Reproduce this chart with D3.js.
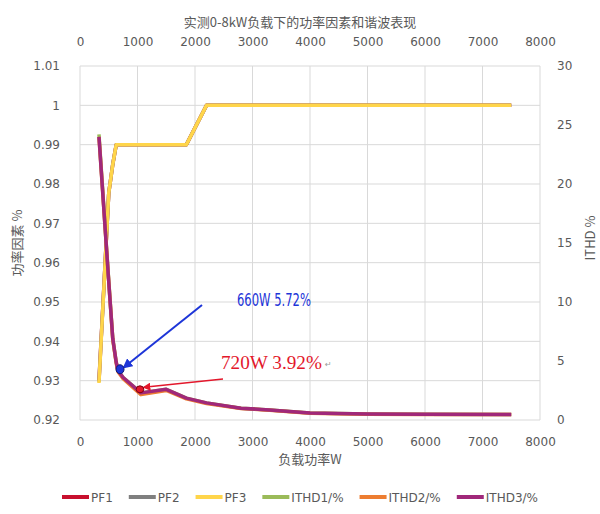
<!DOCTYPE html>
<html>
<head>
<meta charset="utf-8">
<title>功率因素和谐波</title>
<script src="https://cdn.jsdelivr.net/npm/d3@7"></script>
<style>
  body { margin: 0; background: #fff; }
  text { font-family: "DejaVu Sans", "Noto Sans CJK SC", sans-serif; fill: #595959; }
  .cjk { font-family: "Noto Sans CJK SC", sans-serif; }
  .grid line { stroke: #d9d9d9; stroke-width: 1; }
  .series { fill: none; stroke-width: 3.5; stroke-linejoin: round; }
</style>
</head>
<body>
<script>
// load points (W)
var loadW = [330, 500, 570, 630, 660, 750, 1060, 1500, 1850, 2200, 2800, 3300, 4000, 5000, 6000, 7500];

// power factor, left axis
var pf1 = [0.9300, 0.9777, 0.985, 0.99, 0.99, 0.99, 0.99, 0.99, 0.99, 1.0, 1.0, 1.0, 1.0, 1.0, 1.0, 1.0];
var pf2 = [0.9297, 0.9777, 0.985, 0.99, 0.99, 0.99, 0.99, 0.99, 0.99, 1.0, 1.0, 1.0, 1.0, 1.0, 1.0, 1.0];
var pf3 = [0.9294, 0.9777, 0.985, 0.99, 0.99, 0.99, 0.99, 0.99, 0.99, 1.0, 1.0, 1.0, 1.0, 1.0, 1.0, 1.0];

// current THD in %, right axis
var ithd1 = [24.2, 11.8, 6.9, 4.9, 4.2, 3.6, 2.3, 2.6, 1.85, 1.45, 1.0, 0.85, 0.6, 0.5, 0.48, 0.47];
var ithd2 = [24.0, 11.7, 6.8, 4.8, 4.1, 3.5, 2.15, 2.5, 1.8, 1.4, 0.98, 0.83, 0.58, 0.49, 0.47, 0.46];
var ithd3 = [24.0, 11.7, 6.9, 4.9, 4.2, 3.6, 2.3, 2.6, 1.85, 1.45, 1.0, 0.85, 0.6, 0.5, 0.48, 0.47];

var seriesNames = ["PF1", "PF2", "PF3", "ITHD1/%", "ITHD2/%", "ITHD3/%"];
var seriesColors = ["#c8102e", "#7f7f7f", "#ffd54a", "#9bbb59", "#ed7d31", "#a0287a"];

var xTicks = [0, 1000, 2000, 3000, 4000, 5000, 6000, 7000, 8000];
var pfTicks = [0.92, 0.93, 0.94, 0.95, 0.96, 0.97, 0.98, 0.99, 1.0, 1.01];
var ithdTicks = [0, 5, 10, 15, 20, 25, 30];

var title = "实测0-8kW负载下的功率因素和谐波表现";
var xTitle = "负载功率W";
var yLeftTitle = "功率因素 %";
var yRightTitle = "ITHD %";

// hand drawn callouts: [load, ithd] of dot, arrow tail, label
var notes = [
  { label: "660W 5.72%", dot: [696, 4.3], tail: [2122, 9.75], text: [2730, 9.66], color: "#1d35d8", edge: "#101a70", font: "'Liberation Sans Narrow', 'DejaVu Sans Condensed', sans-serif", size: 18, len: 74 },
  { label: "720W 3.92%", dot: [1043, 2.6], tail: [2487, 3.47], text: [2452, 4.3], color: "#e3172b", edge: "#7a0010", font: "'Liberation Serif', serif", size: 18, len: 101 }
];

var W = 600, H = 514;
var margin = { top: 66, right: 60, bottom: 94, left: 80 };
var width = W - margin.left - margin.right,
    height = H - margin.top - margin.bottom;

var svg = d3.select("body").append("svg")
    .attr("width", W).attr("height", H);

var defs = svg.append("defs");
notes.forEach(function(n, i) {
  defs.append("marker")
      .attr("id", "arr" + i)
      .attr("viewBox", "0 0 10 10")
      .attr("refX", 8).attr("refY", 5)
      .attr("markerWidth", 5).attr("markerHeight", 5)
      .attr("markerUnits", "strokeWidth")
      .attr("orient", "auto")
    .append("path")
      .attr("d", "M0,0 L10,5 L0,10 z")
      .attr("fill", n.color);
});

var g = svg.append("g")
    .attr("transform", "translate(" + margin.left + "," + margin.top + ")");

var x = d3.scaleLinear().domain([0, 8000]).range([0, width]);
var yL = d3.scaleLinear().domain([0.92, 1.01]).range([height, 0]);
var yR = d3.scaleLinear().domain([0, 30]).range([height, 0]);

// grid
var grid = g.append("g").attr("class", "grid");
grid.selectAll(".vx").data(xTicks).enter().append("line")
    .attr("x1", d => x(d)).attr("x2", d => x(d))
    .attr("y1", 0).attr("y2", height);
grid.selectAll(".hy").data(pfTicks).enter().append("line")
    .attr("x1", 0).attr("x2", width)
    .attr("y1", d => yL(d)).attr("y2", d => yL(d));

// axes
function styleAxis(sel) {
  sel.select(".domain").remove();
  sel.selectAll(".tick line").remove();
  sel.selectAll("text").attr("fill", "#595959").style("font-size", "12px");
}
g.append("g")
    .attr("transform", "translate(0," + height + ")")
    .call(d3.axisBottom(x).tickValues(xTicks).tickFormat(d3.format("d")).tickPadding(11))
    .call(styleAxis);
g.append("g")
    .call(d3.axisTop(x).tickValues(xTicks).tickFormat(d3.format("d")).tickPadding(14))
    .call(styleAxis);
g.append("g")
    .call(d3.axisLeft(yL).tickValues(pfTicks).tickFormat(d => String(+d.toFixed(2))).tickPadding(14))
    .call(styleAxis);
g.append("g")
    .attr("transform", "translate(" + width + ",0)")
    .call(d3.axisRight(yR).tickValues(ithdTicks).tickPadding(11))
    .call(styleAxis);

// series
var allSeries = [pf1, pf2, pf3, ithd1, ithd2, ithd3];
allSeries.forEach(function(vals, i) {
  var yScale = i < 3 ? yL : yR;
  var line = d3.line()
      .x((d, j) => x(loadW[j]))
      .y(d => yScale(d));
  g.append("path")
      .datum(vals)
      .attr("class", "series")
      .attr("stroke", seriesColors[i])
      .attr("d", line);
});

// callouts
notes.forEach(function(n, i) {
  g.append("line")
      .attr("x1", x(n.tail[0])).attr("y1", yR(n.tail[1]))
      .attr("x2", x(n.dot[0]) + 4).attr("y2", yR(n.dot[1]) - 2)
      .attr("stroke", n.color)
      .attr("stroke-width", i == 0 ? 2 : 1.6)
      .attr("marker-end", "url(#arr" + i + ")");
  g.append("ellipse")
      .attr("cx", x(n.dot[0])).attr("cy", yR(n.dot[1]))
      .attr("rx", i == 0 ? 4 : 3.8).attr("ry", i == 0 ? 4.5 : 3.5)
      .attr("fill", n.color)
      .attr("stroke", n.edge).attr("stroke-width", 1);
  g.append("text")
      .attr("x", x(n.text[0])).attr("y", yR(n.text[1]))
      .attr("textLength", n.len).attr("lengthAdjust", "spacingAndGlyphs")
      .style("font-family", n.font)
      .style("font-size", n.size + "px")
      .style("fill", n.color)
      .text(n.label);
});
g.append("text")
    .attr("x", x(notes[1].text[0]) + notes[1].len + 3)
    .attr("y", yR(notes[1].text[1]) - 2)
    .style("font-size", "8px").style("fill", "#999")
    .text("↵");

// titles
svg.append("text").attr("class", "cjk")
    .attr("x", W / 2).attr("y", 27)
    .attr("text-anchor", "middle")
    .style("font-size", "13px")
    .text(title);
svg.append("text").attr("class", "cjk")
    .attr("x", margin.left + width / 2).attr("y", 464)
    .attr("text-anchor", "middle")
    .style("font-size", "13px")
    .text(xTitle);
svg.append("text").attr("class", "cjk")
    .attr("transform", "translate(22," + (margin.top + height / 2) + ")rotate(-90)")
    .attr("text-anchor", "middle")
    .style("font-size", "13px")
    .text(yLeftTitle);
svg.append("text").attr("class", "cjk")
    .attr("transform", "translate(595," + (margin.top + height / 2 - 5) + ")rotate(-90)")
    .attr("text-anchor", "middle")
    .style("font-size", "13px")
    .text(yRightTitle);

// legend
var legend = svg.append("g");
var lx = 0;
seriesNames.forEach(function(name, i) {
  var item = legend.append("g").attr("transform", "translate(" + lx + ",0)");
  item.append("line")
      .attr("x1", 0).attr("x2", 27)
      .attr("y1", 0).attr("y2", 0)
      .attr("stroke", seriesColors[i]).attr("stroke-width", 4);
  var t = item.append("text")
      .attr("x", 29).attr("y", 4.5)
      .style("font-size", "12px")
      .text(name);
  lx += 29 + t.node().getComputedTextLength() + 16;
});
lx -= 16;
legend.attr("transform", "translate(" + ((W - lx) / 2) + ",497)");
</script>
</body>
</html>
